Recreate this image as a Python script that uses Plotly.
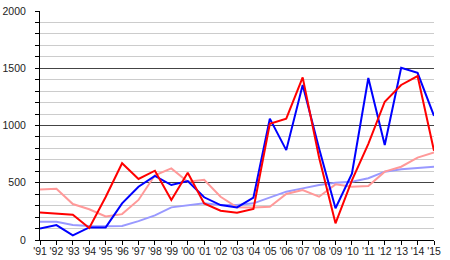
import plotly.graph_objects as go

years = list(range(1991, 2016))
tick_labels = ["'" + str(y)[2:] for y in years]

blue = [100, 130, 40, 110, 110, 320, 465, 560, 480, 515, 373, 305, 285, 370,
        1060, 785, 1354, 800, 277, 580, 1415, 830, 1505, 1460, 1085]
red = [240, 230, 220, 105, 375, 670, 533, 605, 350, 588, 320, 256, 238, 272,
       1015, 1060, 1420, 720, 146, 520, 840, 1208, 1354, 1432, 780]
pink = [440, 448, 314, 268, 205, 226, 350, 565, 625, 509, 526, 378, 285, 283,
        290, 402, 437, 378, 486, 466, 472, 597, 640, 719, 765]
lavender = [160, 160, 131, 122, 120, 122, 165, 215, 285, 305, 320, 305, 305, 320,
            373, 422, 451, 480, 500, 509, 539, 597, 617, 631, 640]

fig = go.Figure()
for vals, col in [(lavender, "#9999ff"), (pink, "#ff9999"), (blue, "#0000ff"), (red, "#ff0000")]:
    fig.add_trace(go.Scatter(x=years, y=vals, mode="lines",
                             line=dict(color=col, width=2), showlegend=False,
                             hoverinfo="skip"))

font = dict(family="Liberation Sans, Arial, sans-serif", size=10.5, color="#222")

fig.update_layout(
    width=450, height=260,
    margin=dict(l=40, r=16, t=11, b=20),
    paper_bgcolor="white", plot_bgcolor="white",
    font=font,
    xaxis=dict(range=[1991, 2015], tickmode="array", tickvals=years, ticktext=tick_labels,
               tickangle=0, automargin=False,
               showgrid=False, zeroline=False, showline=True, linecolor="black", linewidth=1,
               ticks="outside", ticklen=4, tickcolor="black", tickfont=font,
               ticklabelstandoff=-3),
    yaxis=dict(range=[0, 2000], dtick=500, tick0=0, showgrid=True, gridcolor="#444",
               gridwidth=1, zeroline=False, showline=True, linecolor="black", linewidth=1,
               ticks="outside", ticklen=4, tickcolor="black", tickfont=font,
               ticklabelstandoff=7, automargin=False,
               minor=dict(dtick=100, showgrid=True, gridcolor="#cccccc", ticks="outside",
                          ticklen=4, tickcolor="black")),
)

fig.write_html("out.html")
